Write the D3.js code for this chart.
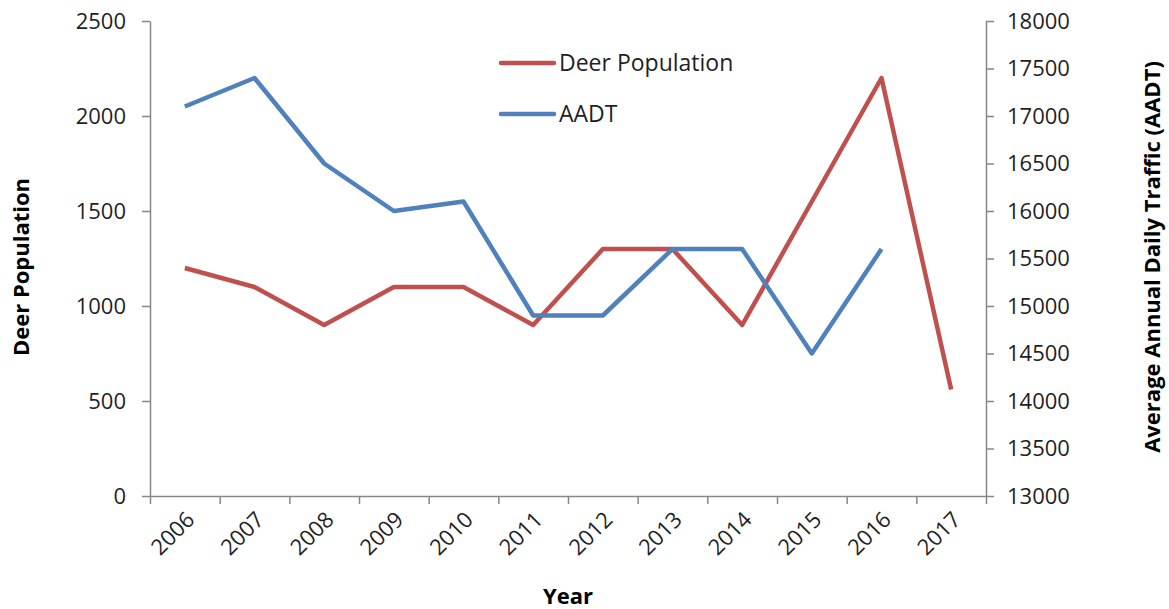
<!DOCTYPE html>
<html>
<head>
<meta charset="utf-8">
<script src="https://cdn.jsdelivr.net/npm/d3@7/dist/d3.min.js"></script>
<style>
  html, body { margin: 0; padding: 0; background: #ffffff; }
  svg { display: block; }
  .tick text { font-family: "Open Sans", Lato, sans-serif; fill: #1f1f1f; }
</style>
</head>
<body>
<svg id="chart" width="1169" height="609"></svg>
<script>
// Years on the category axis
const years = ["2006", "2007", "2008", "2009", "2010", "2011", "2012", "2013", "2014", "2015", "2016", "2017"];
// Deer population (left axis)
const deerPopulation = [1200, 1100, 900, 1100, 1100, 900, 1300, 1300, 900, 1550, 2200, 560];
// Average annual daily traffic (right axis); no figure for 2017
const aadt = [17100, 17400, 16500, 16000, 16100, 14900, 14900, 15600, 15600, 14500, 15600, null];
// Axis tick values
const leftTicks = [0, 500, 1000, 1500, 2000, 2500];
const rightTicks = [13000, 13500, 14000, 14500, 15000, 15500, 16000, 16500, 17000, 17500, 18000];

const seriesNames = ["Deer Population", "AADT"];
const colors = { deer: "#C0504D", aadt: "#4F81BD" };
const axisColor = "#868686";
const font = "'Open Sans', Lato, sans-serif";

const svg = d3.select("#chart");
const plot = { left: 150, right: 986, top: 21, bottom: 496 };

const x = d3.scaleBand().domain(years).range([plot.left, plot.right]).padding(0);
const xEdge = d3.scaleLinear().domain([0, years.length]).range([plot.left, plot.right]);
const yLeft = d3.scaleLinear().domain([0, 2500]).range([plot.bottom, plot.top]);
const yRight = d3.scaleLinear().domain([13000, 18000]).range([plot.bottom, plot.top]);
const cx = d => x(d) + x.bandwidth() / 2;
const plain = d3.format("d");

function styleAxis(g) {
  g.select(".domain").attr("stroke", axisColor).attr("stroke-width", 1.5);
  g.selectAll(".tick line").attr("stroke", axisColor).attr("stroke-width", 1.5);
}

// Left axis
const gL = svg.append("g")
  .attr("transform", `translate(${plot.left},0)`)
  .call(d3.axisLeft(yLeft).tickValues(leftTicks).tickFormat(plain)
    .tickSize(8).tickSizeOuter(0).tickPadding(16));
styleAxis(gL);
gL.selectAll(".tick text").attr("font-size", 22);

// Right axis
const gR = svg.append("g")
  .attr("transform", `translate(${plot.right},0)`)
  .call(d3.axisRight(yRight).tickValues(rightTicks).tickFormat(plain)
    .tickSize(8).tickSizeOuter(0).tickPadding(13));
styleAxis(gR);
gR.selectAll(".tick text").attr("font-size", 22);

// Bottom axis: tick marks at category boundaries
const gB = svg.append("g")
  .attr("transform", `translate(0,${plot.bottom})`)
  .call(d3.axisBottom(xEdge).tickValues(d3.range(years.length + 1)).tickSize(8).tickSizeOuter(0).tickFormat(""));
styleAxis(gB);

// Bottom axis labels, rotated, at category centres
const gBL = svg.append("g")
  .attr("transform", `translate(0,${plot.bottom})`)
  .call(d3.axisBottom(x).tickSize(0).tickSizeOuter(0));
gBL.select(".domain").remove();
gBL.selectAll(".tick text")
  .attr("font-size", 22)
  .attr("text-anchor", "end")
  .attr("dy", null)
  .attr("y", 0)
  .attr("transform", "translate(11,25) rotate(-45)");

// Lines
const line = yScale => d3.line()
  .defined(d => d.v != null)
  .x(d => cx(d.year))
  .y(d => yScale(d.v));

const deerData = years.map((year, i) => ({ year, v: deerPopulation[i] }));
const aadtData = years.map((year, i) => ({ year, v: aadt[i] }));

svg.append("path").datum(deerData)
  .attr("fill", "none").attr("stroke", colors.deer).attr("stroke-width", 4.5)
  .attr("stroke-linejoin", "round").attr("d", line(yLeft));

svg.append("path").datum(aadtData)
  .attr("fill", "none").attr("stroke", colors.aadt).attr("stroke-width", 4.5)
  .attr("stroke-linejoin", "round").attr("d", line(yRight));

// Legend
const legend = svg.append("g").attr("transform", "translate(501,63)");
[colors.deer, colors.aadt].forEach((c, i) => {
  const row = legend.append("g").attr("transform", `translate(0,${i * 51})`);
  row.append("line").attr("x1", 0).attr("x2", 53).attr("y1", 0).attr("y2", 0)
    .attr("stroke", c).attr("stroke-width", 4.5).attr("stroke-linecap", "round");
  row.append("text").attr("x", 58).attr("y", 0).attr("dy", "0.35em")
    .attr("font-family", font).attr("font-size", 23).attr("fill", "#1f1f1f")
    .text(seriesNames[i]);
});

// Axis titles
svg.append("text")
  .attr("transform", `translate(21,267) rotate(-90)`)
  .attr("text-anchor", "middle").attr("dy", "0.35em")
  .attr("font-family", font).attr("font-weight", "bold").attr("font-size", 22).attr("fill", "#000")
  .text("Deer Population");

svg.append("text")
  .attr("transform", `translate(1152,257) rotate(-90)`)
  .attr("text-anchor", "middle").attr("dy", "0.35em")
  .attr("font-family", font).attr("font-weight", "bold").attr("font-size", 22).attr("fill", "#000")
  .text("Average Annual Daily Traffic (AADT)");

svg.append("text")
  .attr("x", 568).attr("y", 596).attr("dy", "0.35em")
  .attr("text-anchor", "middle")
  .attr("font-family", font).attr("font-weight", "bold").attr("font-size", 22).attr("fill", "#000")
  .text("Year");
</script>
</body>
</html>
